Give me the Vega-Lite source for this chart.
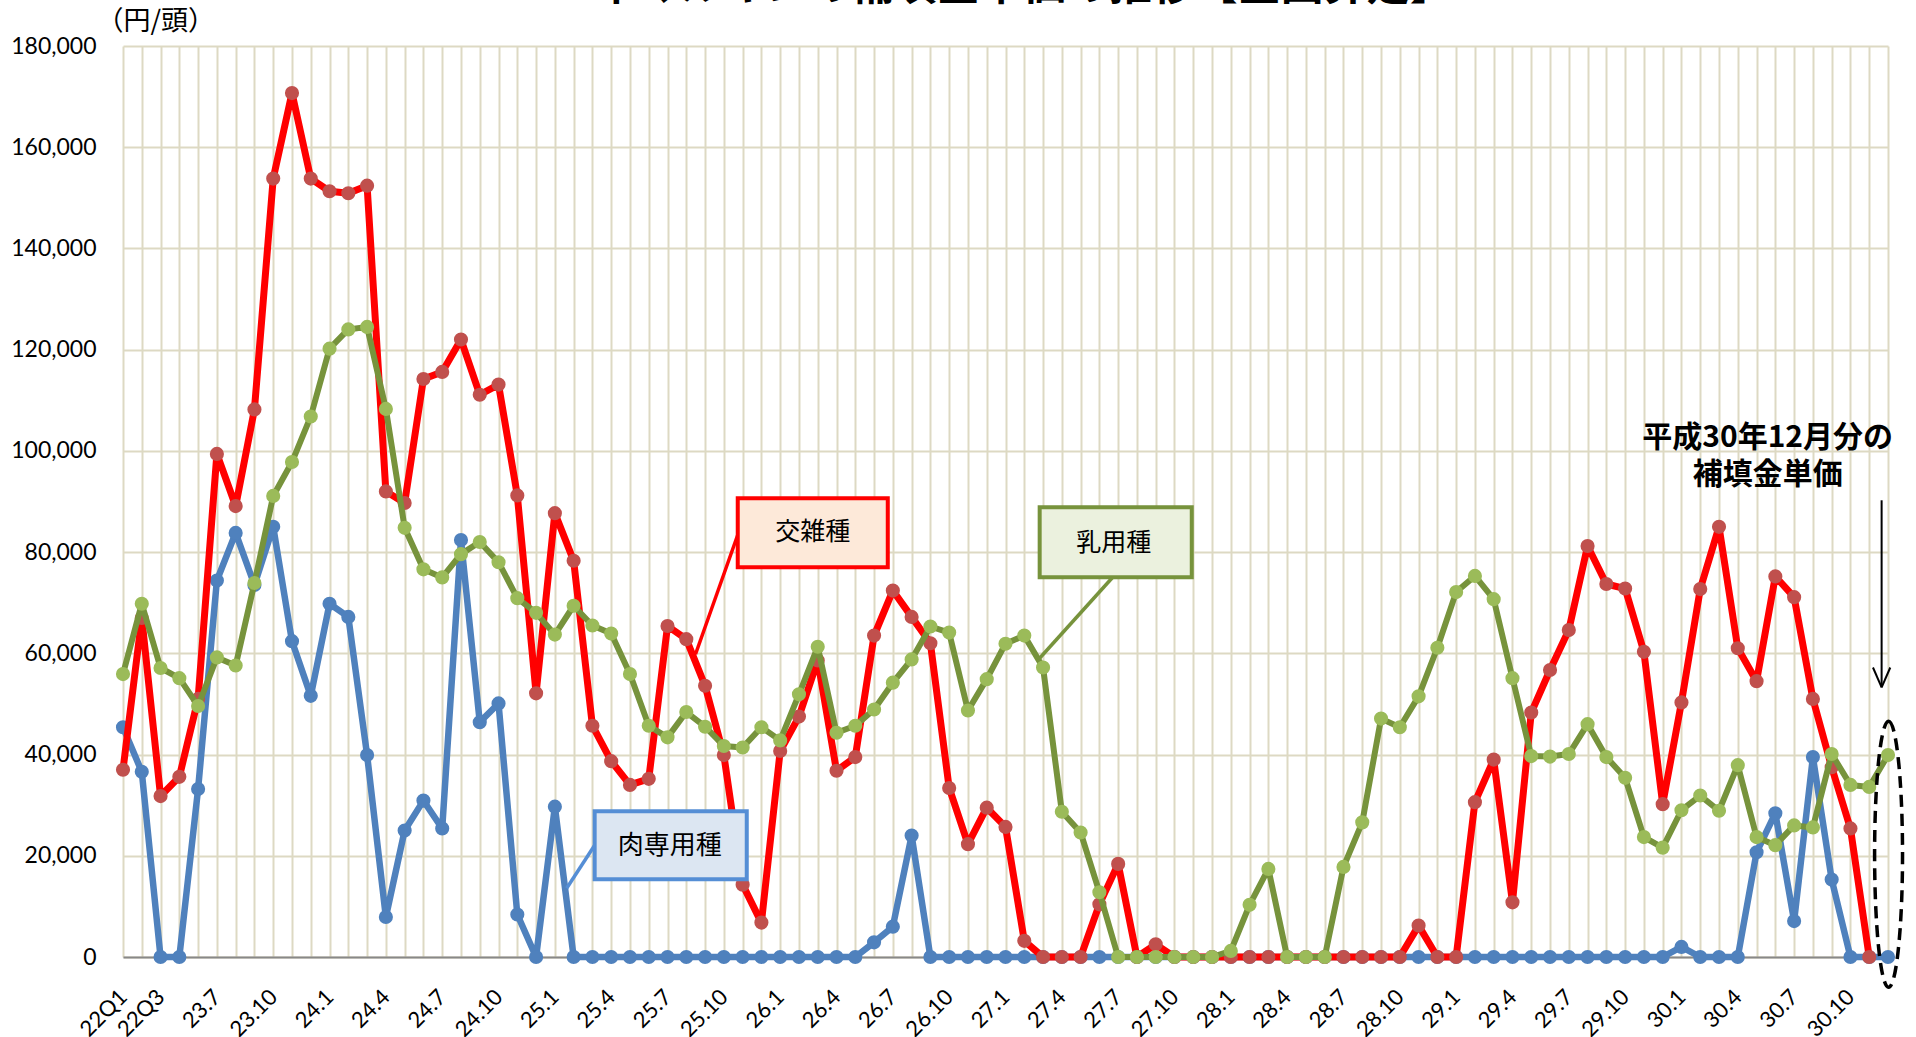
{
  "$schema": "https://vega.github.io/schema/vega-lite/v6.json",
  "width": 1765,
  "height": 911,
  "autosize": {"type": "none"},
  "padding": {"left": 123, "top": 46, "right": 28, "bottom": 80},
  "background": "white",
  "title": {
    "text": "牛マルキンの補填金単価の推移【全国算定】",
    "font": "Noto Sans CJK JP",
    "fontSize": 43,
    "fontWeight": "bold",
    "color": "black",
    "anchor": "middle",
    "frame": "group",
    "baseline": "alphabetic",
    "offset": -36,
    "dx": 18
  },
  "config": {"view": {"stroke": null}},
  "resolve": {"axis": {"x": "independent", "y": "independent"}},
  "layer": [
    {
      "data": {
        "values": [
          {"i": 0, "期間": "22Q1", "交雑種": 37000, "乳用種": 55900, "肉専用種": 45400},
          {"i": 1, "期間": "22Q2", "交雑種": 67000, "乳用種": 69800, "肉専用種": 36600},
          {"i": 2, "期間": "22Q3", "交雑種": 31800, "乳用種": 57100, "肉専用種": 0},
          {"i": 3, "期間": "22Q4", "交雑種": 35600, "乳用種": 55100, "肉専用種": 0},
          {"i": 4, "期間": "23Q1", "交雑種": 51000, "乳用種": 49600, "肉専用種": 33200},
          {"i": 5, "期間": "23.7", "交雑種": 99400, "乳用種": 59200, "肉専用種": 74400},
          {"i": 6, "期間": "23.8", "交雑種": 89100, "乳用種": 57600, "肉専用種": 83800},
          {"i": 7, "期間": "23.9", "交雑種": 108200, "乳用種": 73900, "肉専用種": 73500},
          {"i": 8, "期間": "23.10", "交雑種": 153800, "乳用種": 91100, "肉専用種": 85000},
          {"i": 9, "期間": "23.11", "交雑種": 170700, "乳用種": 97800, "肉専用種": 62400},
          {"i": 10, "期間": "23.12", "交雑種": 153800, "乳用種": 106800, "肉専用種": 51600},
          {"i": 11, "期間": "24.1", "交雑種": 151300, "乳用種": 120200, "肉専用種": 69800},
          {"i": 12, "期間": "24.2", "交雑種": 150900, "乳用種": 124000, "肉専用種": 67200},
          {"i": 13, "期間": "24.3", "交雑種": 152400, "乳用種": 124500, "肉専用種": 39900},
          {"i": 14, "期間": "24.4", "交雑種": 92000, "乳用種": 108300, "肉専用種": 7900},
          {"i": 15, "期間": "24.5", "交雑種": 89700, "乳用種": 84800, "肉専用種": 25000},
          {"i": 16, "期間": "24.6", "交雑種": 114200, "乳用種": 76600, "肉専用種": 30900},
          {"i": 17, "期間": "24.7", "交雑種": 115600, "乳用種": 75000, "肉専用種": 25400},
          {"i": 18, "期間": "24.8", "交雑種": 122000, "乳用種": 79600, "肉専用種": 82400},
          {"i": 19, "期間": "24.9", "交雑種": 111100, "乳用種": 82000, "肉専用種": 46400},
          {"i": 20, "期間": "24.10", "交雑種": 113100, "乳用種": 78000, "肉専用種": 50100},
          {"i": 21, "期間": "24.11", "交雑種": 91200, "乳用種": 70900, "肉専用種": 8400},
          {"i": 22, "期間": "24.12", "交雑種": 52100, "乳用種": 68000, "肉専用種": 0},
          {"i": 23, "期間": "25.1", "交雑種": 87700, "乳用種": 63700, "肉専用種": 29700},
          {"i": 24, "期間": "25.2", "交雑種": 78300, "乳用種": 69400, "肉専用種": 0},
          {"i": 25, "期間": "25.3", "交雑種": 45700, "乳用種": 65500, "肉専用種": 0},
          {"i": 26, "期間": "25.4", "交雑種": 38700, "乳用種": 63900, "肉専用種": 0},
          {"i": 27, "期間": "25.5", "交雑種": 34000, "乳用種": 55900, "肉専用種": 0},
          {"i": 28, "期間": "25.6", "交雑種": 35200, "乳用種": 45700, "肉専用種": 0},
          {"i": 29, "期間": "25.7", "交雑種": 65400, "乳用種": 43400, "肉専用種": 0},
          {"i": 30, "期間": "25.8", "交雑種": 62800, "乳用種": 48400, "肉専用種": 0},
          {"i": 31, "期間": "25.9", "交雑種": 53600, "乳用種": 45500, "肉専用種": 0},
          {"i": 32, "期間": "25.10", "交雑種": 39900, "乳用種": 41700, "肉専用種": 0},
          {"i": 33, "期間": "25.11", "交雑種": 14300, "乳用種": 41400, "肉専用種": 0},
          {"i": 34, "期間": "25.12", "交雑種": 6800, "乳用種": 45400, "肉専用種": 0},
          {"i": 35, "期間": "26.1", "交雑種": 40700, "乳用種": 42800, "肉専用種": 0},
          {"i": 36, "期間": "26.2", "交雑種": 47500, "乳用種": 51900, "肉専用種": 0},
          {"i": 37, "期間": "26.3", "交雑種": 58600, "乳用種": 61300, "肉専用種": 0},
          {"i": 38, "期間": "26.4", "交雑種": 36800, "乳用種": 44300, "肉専用種": 0},
          {"i": 39, "期間": "26.5", "交雑種": 39500, "乳用種": 45700, "肉専用種": 0},
          {"i": 40, "期間": "26.6", "交雑種": 63500, "乳用種": 48900, "肉専用種": 2900},
          {"i": 41, "期間": "26.7", "交雑種": 72400, "乳用種": 54200, "肉専用種": 6000},
          {"i": 42, "期間": "26.8", "交雑種": 67200, "乳用種": 58800, "肉専用種": 24000},
          {"i": 43, "期間": "26.9", "交雑種": 62000, "乳用種": 65300, "肉専用種": 0},
          {"i": 44, "期間": "26.10", "交雑種": 33400, "乳用種": 64100, "肉専用種": 0},
          {"i": 45, "期間": "26.11", "交雑種": 22300, "乳用種": 48700, "肉専用種": 0},
          {"i": 46, "期間": "26.12", "交雑種": 29500, "乳用種": 54900, "肉専用種": 0},
          {"i": 47, "期間": "27.1", "交雑種": 25700, "乳用種": 61900, "肉専用種": 0},
          {"i": 48, "期間": "27.2", "交雑種": 3200, "乳用種": 63500, "肉専用種": 0},
          {"i": 49, "期間": "27.3", "交雑種": 0, "乳用種": 57200, "肉専用種": 0},
          {"i": 50, "期間": "27.4", "交雑種": 0, "乳用種": 28700, "肉専用種": 0},
          {"i": 51, "期間": "27.5", "交雑種": 0, "乳用種": 24600, "肉専用種": 0},
          {"i": 52, "期間": "27.6", "交雑種": 10400, "乳用種": 12800, "肉専用種": 0},
          {"i": 53, "期間": "27.7", "交雑種": 18400, "乳用種": 0, "肉専用種": 0},
          {"i": 54, "期間": "27.8", "交雑種": 0, "乳用種": 0, "肉専用種": 0},
          {"i": 55, "期間": "27.9", "交雑種": 2500, "乳用種": 0, "肉専用種": 0},
          {"i": 56, "期間": "27.10", "交雑種": 0, "乳用種": 0, "肉専用種": 0},
          {"i": 57, "期間": "27.11", "交雑種": 0, "乳用種": 0, "肉専用種": 0},
          {"i": 58, "期間": "27.12", "交雑種": 0, "乳用種": 0, "肉専用種": 0},
          {"i": 59, "期間": "28.1", "交雑種": 0, "乳用種": 1200, "肉専用種": 0},
          {"i": 60, "期間": "28.2", "交雑種": 0, "乳用種": 10300, "肉専用種": 0},
          {"i": 61, "期間": "28.3", "交雑種": 0, "乳用種": 17400, "肉専用種": 0},
          {"i": 62, "期間": "28.4", "交雑種": 0, "乳用種": 0, "肉専用種": 0},
          {"i": 63, "期間": "28.5", "交雑種": 0, "乳用種": 0, "肉専用種": 0},
          {"i": 64, "期間": "28.6", "交雑種": 0, "乳用種": 0, "肉専用種": 0},
          {"i": 65, "期間": "28.7", "交雑種": 0, "乳用種": 17800, "肉専用種": 0},
          {"i": 66, "期間": "28.8", "交雑種": 0, "乳用種": 26600, "肉専用種": 0},
          {"i": 67, "期間": "28.9", "交雑種": 0, "乳用種": 47100, "肉専用種": 0},
          {"i": 68, "期間": "28.10", "交雑種": 0, "乳用種": 45400, "肉専用種": 0},
          {"i": 69, "期間": "28.11", "交雑種": 6200, "乳用種": 51500, "肉専用種": 0},
          {"i": 70, "期間": "28.12", "交雑種": 0, "乳用種": 61100, "肉専用種": 0},
          {"i": 71, "期間": "29.1", "交雑種": 0, "乳用種": 72100, "肉専用種": 0},
          {"i": 72, "期間": "29.2", "交雑種": 30600, "乳用種": 75300, "肉専用種": 0},
          {"i": 73, "期間": "29.3", "交雑種": 39000, "乳用種": 70700, "肉専用種": 0},
          {"i": 74, "期間": "29.4", "交雑種": 10800, "乳用種": 55100, "肉専用種": 0},
          {"i": 75, "期間": "29.5", "交雑種": 48300, "乳用種": 39700, "肉専用種": 0},
          {"i": 76, "期間": "29.6", "交雑種": 56700, "乳用種": 39600, "肉専用種": 0},
          {"i": 77, "期間": "29.7", "交雑種": 64600, "乳用種": 40100, "肉専用種": 0},
          {"i": 78, "期間": "29.8", "交雑種": 81200, "乳用種": 46000, "肉専用種": 0},
          {"i": 79, "期間": "29.9", "交雑種": 73700, "乳用種": 39500, "肉専用種": 0},
          {"i": 80, "期間": "29.10", "交雑種": 72800, "乳用種": 35400, "肉専用種": 0},
          {"i": 81, "期間": "29.11", "交雑種": 60300, "乳用種": 23700, "肉専用種": 0},
          {"i": 82, "期間": "29.12", "交雑種": 30200, "乳用種": 21600, "肉専用種": 0},
          {"i": 83, "期間": "30.1", "交雑種": 50300, "乳用種": 29000, "肉専用種": 2000},
          {"i": 84, "期間": "30.2", "交雑種": 72700, "乳用種": 31900, "肉専用種": 0},
          {"i": 85, "期間": "30.3", "交雑種": 85000, "乳用種": 28900, "肉専用種": 0},
          {"i": 86, "期間": "30.4", "交雑種": 61000, "乳用種": 37900, "肉専用種": 0},
          {"i": 87, "期間": "30.5", "交雑種": 54500, "乳用種": 23700, "肉専用種": 20700},
          {"i": 88, "期間": "30.6", "交雑種": 75200, "乳用種": 22100, "肉専用種": 28400},
          {"i": 89, "期間": "30.7", "交雑種": 71100, "乳用種": 26000, "肉専用種": 7100},
          {"i": 90, "期間": "30.8", "交雑種": 51000, "乳用種": 25600, "肉専用種": 39500},
          {"i": 91, "期間": "30.9", "交雑種": 37500, "乳用種": 40100, "肉専用種": 15300},
          {"i": 92, "期間": "30.10", "交雑種": 25400, "乳用種": 34000, "肉専用種": 0},
          {"i": 93, "期間": "30.11", "交雑種": 0, "乳用種": 33600, "肉専用種": 0},
          {"i": 94, "期間": "30.12", "交雑種": null, "乳用種": 39900, "肉専用種": 0}
        ]
      },
      "transform": [{"fold": ["肉専用種", "交雑種", "乳用種"], "as": ["品種", "円"]}],
      "encoding": {
        "x": {
          "field": "i",
          "type": "quantitative",
          "scale": {"domain": [0, 94], "nice": false, "zero": false},
          "axis": {
            "title": null,
            "values": [0,1,2,3,4,5,6,7,8,9,10,11,12,13,14,15,16,17,18,19,20,21,22,23,24,25,26,27,28,29,30,31,32,33,34,35,36,37,38,39,40,41,42,43,44,45,46,47,48,49,50,51,52,53,54,55,56,57,58,59,60,61,62,63,64,65,66,67,68,69,70,71,72,73,74,75,76,77,78,79,80,81,82,83,84,85,86,87,88,89,90,91,92,93,94],
            "labelExpr": "datum.value == 0 ? '22Q1' : datum.value == 2 ? '22Q3' : (datum.value >= 5 && (datum.value - 5) % 3 == 0) ? (23 + floor((datum.value + 1) / 12)) + '.' + ((datum.value + 1) % 12 + 1) : ''",
            "labelAngle": -45,
            "labelAlign": "right",
            "labelBaseline": "middle",
            "labelPadding": 36,
            "labelFont": "Lato",
            "labelFontSize": 22,
            "labelColor": "black",
            "labelOverlap": false,
            "labelBound": false,
            "labelFlush": false,
            "ticks": false,
            "domain": true,
            "domainColor": "#888888",
            "domainWidth": 2,
            "grid": true,
            "gridColor": "#DDD9C3",
            "gridWidth": 2
          }
        },
        "y": {
          "field": "円",
          "type": "quantitative",
          "scale": {"domain": [0, 180000], "nice": false},
          "axis": {
            "title": "（円/頭）",
            "titleAngle": 0,
            "titleAlign": "left",
            "titleBaseline": "middle",
            "titleX": -27,
            "titleY": -25,
            "titleFont": "Noto Sans CJK JP",
            "titleFontSize": 27,
            "titleFontWeight": "normal",
            "titleColor": "black",
            "values": [0, 20000, 40000, 60000, 80000, 100000, 120000, 140000, 160000, 180000],
            "format": ",d",
            "labelFont": "Lato",
            "labelFontSize": 23,
            "labelColor": "black",
            "labelPadding": 27,
            "ticks": false,
            "domain": false,
            "grid": true,
            "gridColor": "#DDD9C3",
            "gridWidth": 2
          }
        }
      },
      "layer": [
        {"transform": [{"filter": "datum['品種'] == '肉専用種'"}], "mark": {"type": "line", "color": "#4F81BD", "strokeWidth": 6.5, "strokeJoin": "round"}},
        {"transform": [{"filter": "datum['品種'] == '肉専用種'"}], "mark": {"type": "point", "filled": true, "color": "#4F81BD", "size": 200, "opacity": 1}},
        {"transform": [{"filter": "datum['品種'] == '交雑種'"}], "mark": {"type": "line", "color": "#FF0000", "strokeWidth": 7, "strokeJoin": "round"}},
        {"transform": [{"filter": "datum['品種'] == '交雑種'"}], "mark": {"type": "point", "filled": true, "color": "#C0504D", "size": 200, "opacity": 1}},
        {"transform": [{"filter": "datum['品種'] == '乳用種'"}], "mark": {"type": "line", "color": "#77933C", "strokeWidth": 6, "strokeJoin": "round"}},
        {"transform": [{"filter": "datum['品種'] == '乳用種'"}], "mark": {"type": "point", "filled": true, "color": "#9BBB59", "size": 200, "opacity": 1}}
      ]
    },
    {
      "data": {"values": [{}]},
      "mark": {"type": "rule", "color": "#FF0000", "strokeWidth": 3.5},
      "encoding": {
        "x": {"datum": 32.79, "type": "quantitative", "axis": null},
        "y": {"datum": 83920, "type": "quantitative", "axis": null},
        "x2": {"datum": 30.49},
        "y2": {"datum": 59820}
      }
    },
    {
      "data": {"values": [{}]},
      "mark": {"type": "rect", "fill": "#FDE9D9", "stroke": "#FF0000", "strokeWidth": 4},
      "encoding": {
        "x": {"datum": 32.74, "type": "quantitative", "axis": null},
        "x2": {"datum": 40.73},
        "y": {"datum": 90640, "type": "quantitative", "axis": null},
        "y2": {"datum": 77010}
      }
    },
    {
      "data": {"values": [{}]},
      "mark": {"type": "text", "text": "交雑種", "font": "Noto Sans CJK JP", "fontSize": 25, "color": "black", "align": "center", "baseline": "middle"},
      "encoding": {
        "x": {"datum": 36.73, "type": "quantitative", "axis": null},
        "y": {"datum": 83920, "type": "quantitative", "axis": null}
      }
    },
    {
      "data": {"values": [{}]},
      "mark": {"type": "rule", "color": "#77933C", "strokeWidth": 3.5},
      "encoding": {
        "x": {"datum": 52.71, "type": "quantitative", "axis": null},
        "y": {"datum": 75030, "type": "quantitative", "axis": null},
        "x2": {"datum": 48.72},
        "y2": {"datum": 58630}
      }
    },
    {
      "data": {"values": [{}]},
      "mark": {"type": "rect", "fill": "#EBF1DE", "stroke": "#77933C", "strokeWidth": 4},
      "encoding": {
        "x": {"datum": 48.82, "type": "quantitative", "axis": null},
        "x2": {"datum": 56.92},
        "y": {"datum": 88860, "type": "quantitative", "axis": null},
        "y2": {"datum": 75030}
      }
    },
    {
      "data": {"values": [{}]},
      "mark": {"type": "text", "text": "乳用種", "font": "Noto Sans CJK JP", "fontSize": 25, "color": "black", "align": "center", "baseline": "middle"},
      "encoding": {
        "x": {"datum": 52.76, "type": "quantitative", "axis": null},
        "y": {"datum": 81750, "type": "quantitative", "axis": null}
      }
    },
    {
      "data": {"values": [{}]},
      "mark": {"type": "rule", "color": "#558ED5", "strokeWidth": 3.5},
      "encoding": {
        "x": {"datum": 25.12, "type": "quantitative", "axis": null},
        "y": {"datum": 22070, "type": "quantitative", "axis": null},
        "x2": {"datum": 23.63},
        "y2": {"datum": 13590}
      }
    },
    {
      "data": {"values": [{}]},
      "mark": {"type": "rect", "fill": "#DCE6F2", "stroke": "#558ED5", "strokeWidth": 4},
      "encoding": {
        "x": {"datum": 25.12, "type": "quantitative", "axis": null},
        "x2": {"datum": 33.22},
        "y": {"datum": 28790, "type": "quantitative", "axis": null},
        "y2": {"datum": 15350}
      }
    },
    {
      "data": {"values": [{}]},
      "mark": {"type": "text", "text": "肉専用種", "font": "Noto Sans CJK JP", "fontSize": 26, "color": "black", "align": "center", "baseline": "middle"},
      "encoding": {
        "x": {"datum": 29.12, "type": "quantitative", "axis": null},
        "y": {"datum": 21870, "type": "quantitative", "axis": null}
      }
    },
    {
      "data": {"values": [{}]},
      "mark": {"type": "text", "text": ["平成30年12月分の", "補填金単価"], "font": "Noto Sans CJK JP", "fontSize": 30, "fontWeight": "bold", "lineHeight": 37, "color": "black", "align": "center", "baseline": "middle"},
      "encoding": {
        "x": {"datum": 87.59, "type": "quantitative", "axis": null},
        "y": {"datum": 102500, "type": "quantitative", "axis": null}
      }
    },
    {
      "data": {"values": [{}]},
      "mark": {"type": "rule", "color": "black", "strokeWidth": 2},
      "encoding": {
        "x": {"datum": 93.66, "type": "quantitative", "axis": null},
        "y": {"datum": 90240, "type": "quantitative", "axis": null},
        "x2": {"datum": 93.66},
        "y2": {"datum": 53290}
      }
    },
    {
      "data": {"values": [{}]},
      "mark": {"type": "rule", "color": "black", "strokeWidth": 2},
      "encoding": {
        "x": {"datum": 93.2, "type": "quantitative", "axis": null},
        "y": {"datum": 57200, "type": "quantitative", "axis": null},
        "x2": {"datum": 93.66},
        "y2": {"datum": 53290}
      }
    },
    {
      "data": {"values": [{}]},
      "mark": {"type": "rule", "color": "black", "strokeWidth": 2},
      "encoding": {
        "x": {"datum": 94.12, "type": "quantitative", "axis": null},
        "y": {"datum": 57200, "type": "quantitative", "axis": null},
        "x2": {"datum": 93.66},
        "y2": {"datum": 53290}
      }
    },
    {
      "data": {"values": [{}]},
      "mark": {
        "type": "point",
        "shape": "M0,-1C0.058,-1,0.105,-0.552,0.105,0C0.105,0.552,0.058,1,0,1C-0.058,1,-0.105,0.552,-0.105,0C-0.105,-0.552,-0.058,-1,0,-1Z",
        "size": 70756,
        "filled": false,
        "stroke": "black",
        "strokeWidth": 3.5,
        "strokeDash": [12, 7],
        "opacity": 1
      },
      "encoding": {
        "x": {"datum": 94.03, "type": "quantitative", "axis": null},
        "y": {"datum": 20290, "type": "quantitative", "axis": null}
      }
    }
  ]
}
